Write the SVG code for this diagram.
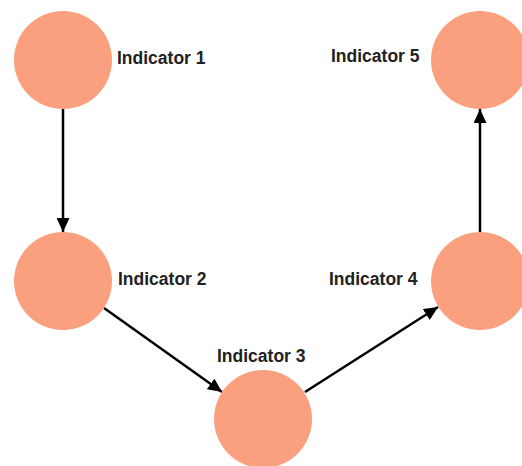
<svg xmlns="http://www.w3.org/2000/svg" width="522" height="466" viewBox="0 0 522 466">
<style>
.n{fill:#FAA07F}
.t{font-family:"Liberation Sans",Arial,sans-serif;font-weight:bold;font-size:17.5px;fill:#222}
.e{stroke:#000;stroke-width:2.5;fill:none;marker-end:url(#a)}
</style>
<defs>
<marker id="a" viewBox="0 0 14 13" refX="14" refY="6.5" markerWidth="14" markerHeight="13" markerUnits="userSpaceOnUse" orient="auto">
<path d="M0,0 L14,6.5 L0,13 Z" fill="#000"/>
</marker>
</defs>
<rect width="522" height="466" fill="#fff"/>
<g id="connectors">
<line class="e" x1="63" y1="109" x2="63" y2="232"/>
<line class="e" x1="104" y1="308" x2="222" y2="392"/>
<line class="e" x1="305" y1="392" x2="438" y2="307"/>
<line class="e" x1="480" y1="232" x2="480" y2="109"/>
</g>
<g id="n1"><circle class="n" cx="63" cy="60" r="49"/><text class="t" x="117" y="64">Indicator 1</text></g>
<g id="n2"><circle class="n" cx="63" cy="281" r="49"/><text class="t" x="118" y="285">Indicator 2</text></g>
<g id="n3"><circle class="n" cx="263" cy="419" r="49"/><text class="t" x="217" y="362">Indicator 3</text></g>
<g id="n4"><circle class="n" cx="480" cy="281" r="49"/><text class="t" x="329" y="285">Indicator 4</text></g>
<g id="n5"><circle class="n" cx="480" cy="60" r="49"/><text class="t" x="331" y="62">Indicator 5</text></g>
</svg>
